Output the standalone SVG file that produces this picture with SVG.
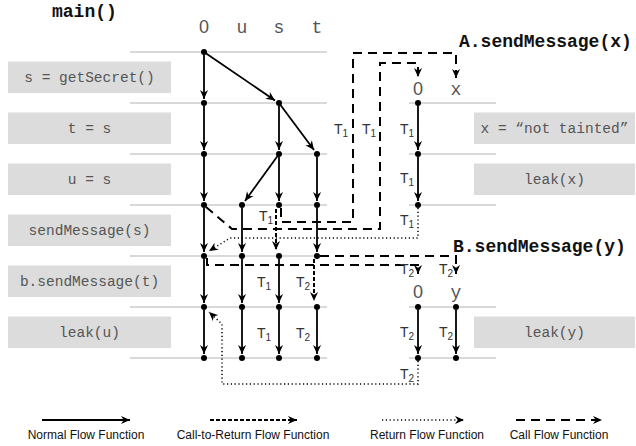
<svg xmlns="http://www.w3.org/2000/svg" width="636" height="446" viewBox="0 0 636 446">
<style>
.row{stroke:#d9d9d9;stroke-width:2;fill:none}
.box{fill:#dcdcdc}
.code{font-family:"Liberation Mono",monospace;font-size:14.5px;fill:#555;text-anchor:middle}
.title{font-family:"Liberation Mono",monospace;font-size:18px;font-weight:bold;fill:#111}
.var{font-family:"Liberation Mono",monospace;font-size:18px;fill:#555;text-anchor:middle}
.zero{font-family:"Liberation Sans",Arial,sans-serif;font-size:18px;fill:#555;text-anchor:middle}
.n{stroke:#000;stroke-width:1.8;fill:none}
.c{stroke:#000;stroke-width:2;fill:none;stroke-dasharray:9 6}
.ctr{stroke:#000;stroke-width:2;fill:none;stroke-dasharray:4 2}
.r{stroke:#000;stroke-width:1.5;fill:none;stroke-dasharray:1.2 2.6}
.dot{fill:#000}
.t{font-family:"Liberation Sans",Arial,sans-serif;font-size:14px;fill:#333}
.t tspan{font-size:10px}
.leg{font-family:"Liberation Sans",Arial,sans-serif;font-size:12px;fill:#111;text-anchor:middle}
</style>
<defs>
<marker id="ah" viewBox="0 0 10 10" refX="10" refY="5" markerWidth="9.5" markerHeight="9" markerUnits="userSpaceOnUse" orient="auto">
<path d="M0,0.5 L10,5 L0,9.5 L3,5 z" fill="#000"/>
</marker>
</defs>
<rect x="0" y="0" width="636" height="446" fill="#fff"/>

<g id="rows">
<path class="row" d="M130,52H327M130,103H327M130,154H327M130,205H327M130,256H327M130,307H327M130,358H327"/>
<path class="row" d="M409,103H496M409,154H496M409,205H496M409,307H496M409,358H496"/>
</g>

<g id="headers">
<text class="title" x="52" y="17">main()</text>
<text class="zero" x="204" y="33">0</text>
<text class="var" x="242" y="33">u</text>
<text class="var" x="279" y="33">s</text>
<text class="var" x="317" y="33">t</text>
<text class="title" x="459" y="47">A.sendMessage(x)</text>
<text class="zero" x="418" y="95">0</text>
<text class="var" x="456" y="95">x</text>
<text class="title" x="453" y="252">B.sendMessage(y)</text>
<text class="zero" x="418" y="298">0</text>
<text class="var" x="456" y="298">y</text>
</g>

<g id="stmt1"><rect class="box" x="8" y="61.5" width="163" height="31.5"/><text class="code" x="89.5" y="82">s = getSecret()</text></g>
<g id="stmt2"><rect class="box" x="8" y="112.5" width="163" height="31.5"/><text class="code" x="89.5" y="133">t = s</text></g>
<g id="stmt3"><rect class="box" x="8" y="163.5" width="163" height="31.5"/><text class="code" x="89.5" y="184">u = s</text></g>
<g id="stmt4"><rect class="box" x="8" y="214.5" width="163" height="31.5"/><text class="code" x="89.5" y="235">sendMessage(s)</text></g>
<g id="stmt5"><rect class="box" x="8" y="265.5" width="163" height="31.5"/><text class="code" x="89.5" y="286">b.sendMessage(t)</text></g>
<g id="stmt6"><rect class="box" x="8" y="316.5" width="163" height="31.5"/><text class="code" x="89.5" y="337">leak(u)</text></g>
<g id="stmtA1"><rect class="box" x="474" y="112.5" width="161" height="31.5"/><text class="code" x="554.5" y="133">x = “not tainted”</text></g>
<g id="stmtA2"><rect class="box" x="474" y="163.5" width="161" height="31.5"/><text class="code" x="554.5" y="184">leak(x)</text></g>
<g id="stmtB1"><rect class="box" x="474" y="316.5" width="161" height="31.5"/><text class="code" x="554.5" y="337">leak(y)</text></g>

<g id="connectors">
<path class="n" marker-end="url(#ah)" d="M204,55V99"/>
<path class="n" marker-end="url(#ah)" d="M204,106V150"/>
<path class="n" marker-end="url(#ah)" d="M204,157V201"/>
<path class="n" marker-end="url(#ah)" d="M204,208V252"/>
<path class="n" marker-end="url(#ah)" d="M204,259V303"/>
<path class="n" marker-end="url(#ah)" d="M204,310V354"/>
<path class="n" marker-end="url(#ah)" d="M204,52L275,100.5"/>
<path class="n" marker-end="url(#ah)" d="M279,106V150"/>
<path class="n" marker-end="url(#ah)" d="M279,103L314,150"/>
<path class="n" marker-end="url(#ah)" d="M279,157V201"/>
<path class="n" marker-end="url(#ah)" d="M279,154L245,201"/>
<path class="n" marker-end="url(#ah)" d="M317,157V201"/>
<path class="n" marker-end="url(#ah)" d="M242,208V252"/>
<path class="n" marker-end="url(#ah)" d="M317,208V252"/>
<path class="n" marker-end="url(#ah)" d="M242,259V303"/>
<path class="n" marker-end="url(#ah)" d="M279,259V303"/>
<path class="n" marker-end="url(#ah)" d="M242,310V354"/>
<path class="n" marker-end="url(#ah)" d="M279,310V354"/>
<path class="n" marker-end="url(#ah)" d="M317,310V354"/>
<path class="n" marker-end="url(#ah)" d="M418,106V150"/>
<path class="n" marker-end="url(#ah)" d="M418,157V201"/>
<path class="n" marker-end="url(#ah)" d="M418,310V354"/>
<path class="n" marker-end="url(#ah)" d="M456,310V354"/>
<path class="c" marker-end="url(#ah)" d="M206,207L232,229H380V63H418V77"/>
<path class="c" marker-end="url(#ah)" d="M281,208V222H353V53H456V78"/>
<path class="c" marker-end="url(#ah)" d="M320,256H456V274"/>
<path class="c" marker-end="url(#ah)" d="M207,258V265H418V274"/>
<path class="ctr" marker-end="url(#ah)" d="M276,209V250"/>
<path class="ctr" marker-end="url(#ah)" d="M314,259V301"/>
<path class="r" marker-end="url(#ah)" d="M418,208V238H230L209,251"/>
<path class="r" marker-end="url(#ah)" d="M418,361V384H222V324L209,312"/>
</g>

<g id="dots">
<circle class="dot" cx="204" cy="52" r="3"/>
<circle class="dot" cx="204" cy="103" r="3"/><circle class="dot" cx="279" cy="103" r="3"/>
<circle class="dot" cx="204" cy="154" r="3"/><circle class="dot" cx="279" cy="154" r="3"/><circle class="dot" cx="317" cy="154" r="3"/>
<circle class="dot" cx="204" cy="205" r="3"/><circle class="dot" cx="242" cy="205" r="3"/><circle class="dot" cx="279" cy="205" r="3"/><circle class="dot" cx="317" cy="205" r="3"/>
<circle class="dot" cx="204" cy="256" r="3"/><circle class="dot" cx="242" cy="256" r="3"/><circle class="dot" cx="279" cy="256" r="3"/><circle class="dot" cx="317" cy="256" r="3"/>
<circle class="dot" cx="204" cy="307" r="3"/><circle class="dot" cx="242" cy="307" r="3"/><circle class="dot" cx="279" cy="307" r="3"/><circle class="dot" cx="317" cy="307" r="3"/>
<circle class="dot" cx="204" cy="358" r="3"/><circle class="dot" cx="242" cy="358" r="3"/><circle class="dot" cx="279" cy="358" r="3"/><circle class="dot" cx="317" cy="358" r="3"/>
<circle class="dot" cx="418" cy="103" r="3"/><circle class="dot" cx="418" cy="154" r="3"/><circle class="dot" cx="418" cy="205" r="3"/>
<circle class="dot" cx="418" cy="307" r="3"/><circle class="dot" cx="456" cy="307" r="3"/>
<circle class="dot" cx="418" cy="358" r="3"/><circle class="dot" cx="456" cy="358" r="3"/>
</g>

<g id="labels">
<text class="t" x="334" y="134">T<tspan dy="3">1</tspan></text>
<text class="t" x="362" y="134">T<tspan dy="3">1</tspan></text>
<text class="t" x="400" y="134">T<tspan dy="3">1</tspan></text>
<text class="t" x="400" y="183">T<tspan dy="3">1</tspan></text>
<text class="t" x="400" y="225">T<tspan dy="3">1</tspan></text>
<text class="t" x="259" y="221">T<tspan dy="3">1</tspan></text>
<text class="t" x="400" y="274">T<tspan dy="3">2</tspan></text>
<text class="t" x="439" y="274">T<tspan dy="3">2</tspan></text>
<text class="t" x="257" y="287">T<tspan dy="3">1</tspan></text>
<text class="t" x="296" y="287">T<tspan dy="3">2</tspan></text>
<text class="t" x="257" y="338">T<tspan dy="3">1</tspan></text>
<text class="t" x="296" y="338">T<tspan dy="3">2</tspan></text>
<text class="t" x="400" y="337">T<tspan dy="3">2</tspan></text>
<text class="t" x="439" y="337">T<tspan dy="3">2</tspan></text>
<text class="t" x="400" y="379">T<tspan dy="3">2</tspan></text>
</g>

<g id="legend">
<path class="n" marker-end="url(#ah)" d="M42,420H130"/>
<path class="ctr" marker-end="url(#ah)" d="M210,420H297"/>
<path class="r" marker-end="url(#ah)" d="M382,420H464"/>
<path class="c" marker-end="url(#ah)" d="M516,420H602"/>
<text class="leg" x="86" y="439">Normal Flow Function</text>
<text class="leg" x="253" y="439">Call-to-Return Flow Function</text>
<text class="leg" x="427" y="439">Return Flow Function</text>
<text class="leg" x="559" y="439">Call Flow Function</text>
</g>
</svg>
